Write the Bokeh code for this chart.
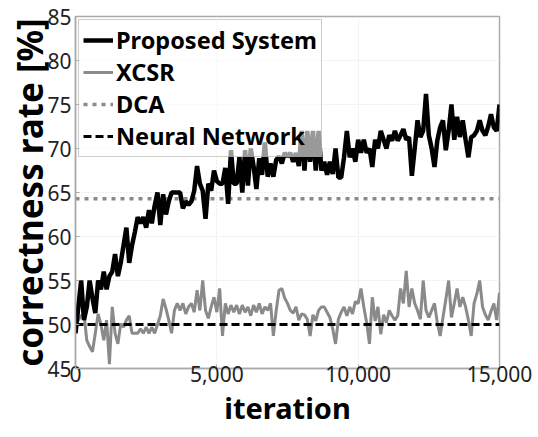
from bokeh.plotting import figure
from bokeh.models import FixedTicker, NumeralTickFormatter, Legend, LegendItem, Range1d
from bokeh.embed import file_html
from bokeh.resources import INLINE

step = 100
proposed = [49, 52, 55, 50.5, 52, 55, 53, 51.3, 55, 54,
            56, 54, 55.5, 56, 58, 55.5, 57, 59, 61, 57,
            59, 60.5, 62.2, 61.5, 62.2, 61, 63, 61.5, 63.5, 65,
            61.3, 64.8, 62.5, 64, 65, 65, 65, 65, 63.2, 64,
            63.6, 64, 65.2, 68, 66, 65.2, 62, 66, 65.2, 67.5,
            66.3, 66, 66, 67.8, 63.7, 69.8, 66, 66, 69, 65,
            69.8, 65.8, 70, 68, 65.4, 68.9, 67, 70.7, 66.8, 68.3,
            66.8, 68.7, 69.1, 68.3, 69.5, 69.1, 69.5, 68.5, 69.5, 68,
            72, 67.5, 72, 68.5, 72, 67.5, 72, 67.5, 68.5, 67,
            68.5, 67.1, 70, 66.7, 66.7, 69, 72, 69, 70, 68.5,
            71, 69.5, 71, 69.5, 70, 67.9, 71, 70, 72, 71,
            70, 71.5, 70.9, 72, 70.9, 71.5, 72.2, 71, 71.3, 66.9,
            70, 73.2, 71.3, 72, 76.2, 71.5, 70, 67.9, 70.9, 72.4,
            73.2, 69.8, 72, 75, 71, 73.6, 71.3, 73.2, 71, 69,
            71.3, 71.5, 72, 73.2, 72, 71.5, 72.5, 73.9, 72.4, 72,
            75]
xcsr = [50, 50.5, 51, 51.2, 48.2, 47.5, 46.9, 49, 51.2, 50,
        48.2, 50.5, 45.5, 52, 49, 47.8, 50.1, 49.7, 50.5, 51,
        49, 49, 49, 49.5, 49, 49.7, 49, 49.7, 49, 50,
        51, 52.9, 51.8, 50.5, 49, 51.6, 52.4, 51.6, 52.4, 51.2,
        52, 52.4, 51.4, 53.9, 51.6, 55, 51.6, 50.7, 52, 53.1,
        51.4, 54.1, 48.7, 52.4, 51.2, 52.2, 51.4, 52.2, 51.2, 52.2,
        51.4, 52, 51, 52.2, 51.4, 52.4, 51.2, 52, 51.6, 52.4,
        48.7, 51.6, 53.9, 54.1, 53, 52.4, 51.6, 51.3, 52, 50.5,
        51.2, 51.1, 50.6, 48.7, 51.1, 50.4, 51.6, 52, 52, 51.4,
        50.8, 49.5, 47.8, 50.6, 51.4, 52, 51, 52, 51.2, 52.6,
        52.4, 54.1, 52, 50.2, 47.8, 53.1, 50.4, 52, 48.9, 51.1,
        50.2, 51.6, 51, 50.5, 51, 54.1, 52.4, 56.1, 52, 54.1,
        52.4, 51.6, 50.6, 55, 51.6, 50.8, 51.6, 52.4, 50.2, 48.7,
        50.8, 52.8, 55, 50.8, 52.4, 54.1, 52, 53.1, 52, 50.5,
        48.7, 52.4, 53.5, 55, 52, 51.1, 50.5, 51.5, 52.4, 50.5,
        53.6]
dca_value = 64.3
nn_value = 50.0
iterations = [i * step for i in range(len(proposed))]
x_ticks = [0, 5000, 10000, 15000]
y_ticks = [45, 50, 55, 60, 65, 70, 75, 80, 85]
labels = ["Proposed System", "XCSR", "DCA", "Neural Network"]

FONT = "Noto Sans"

p = figure(width=538, height=437, output_backend="svg", toolbar_location=None,
           x_range=Range1d(0, 15000), y_range=Range1d(45, 85),
           min_border_left=75, min_border_right=39, min_border_top=16, min_border_bottom=69)

x_span = [iterations[0], iterations[-1]]
r_x = p.line(iterations, xcsr, line_color="#8a8a8a", line_width=3)
r_d = p.line(x_span, [dca_value, dca_value], line_color="#8a8a8a", line_width=3.5, line_dash="4 5")
r_n = p.line(x_span, [nn_value, nn_value], line_color="black", line_width=3, line_dash="8 4")
r_p = p.line(iterations, proposed, line_color="black", line_width=4.5)

legend = Legend(items=[LegendItem(label=labels[0], renderers=[r_p]),
                       LegendItem(label=labels[1], renderers=[r_x]),
                       LegendItem(label=labels[2], renderers=[r_d]),
                       LegendItem(label=labels[3], renderers=[r_n])],
                location="top_left")
legend.margin = 3
legend.padding = 4
legend.spacing = 0
legend.glyph_width = 30
legend.glyph_height = 30
legend.label_height = 30
legend.label_standoff = 3
legend.label_text_font = FONT
legend.label_text_font_style = "bold"
legend.label_text_font_size = "23.5px"
legend.label_text_color = "black"
legend.border_line_color = "#999999"
legend.border_line_width = 1.5
legend.background_fill_alpha = 0.6
p.add_layout(legend)

p.xaxis.ticker = FixedTicker(ticks=x_ticks)
p.xaxis.formatter = NumeralTickFormatter(format="0,0")
p.yaxis.ticker = FixedTicker(ticks=y_ticks)
for ax in (p.xaxis, p.yaxis):
    ax.major_label_text_font = FONT
    ax.major_label_text_font_size = "21px"
    ax.major_label_text_color = "#222222"
    ax.axis_label_text_font = FONT
    ax.axis_label_text_font_style = "bold"
    ax.axis_label_text_color = "black"
    ax.axis_line_color = "#aaaaaa"
    ax.axis_line_width = 1.5
    ax.major_tick_line_color = "#aaaaaa"
    ax.major_tick_in = 4
    ax.major_tick_out = 0
    ax.minor_tick_line_color = None
p.xaxis.major_label_standoff = -3
p.yaxis.major_label_standoff = 4
p.xaxis.axis_label = "iteration"
p.xaxis.axis_label_text_font_size = "29px"
p.xaxis.axis_label_standoff = 3
p.yaxis.axis_label = "correctness rate [%]"
p.yaxis.axis_label_text_font_size = "35px"
p.yaxis.axis_label_standoff = -9

p.grid.grid_line_color = "#dddddd"
p.grid.grid_line_dash = "1 2"
p.outline_line_color = "#aaaaaa"
p.outline_line_width = 1.5

open("out.html", "w").write(file_html(p, INLINE))
